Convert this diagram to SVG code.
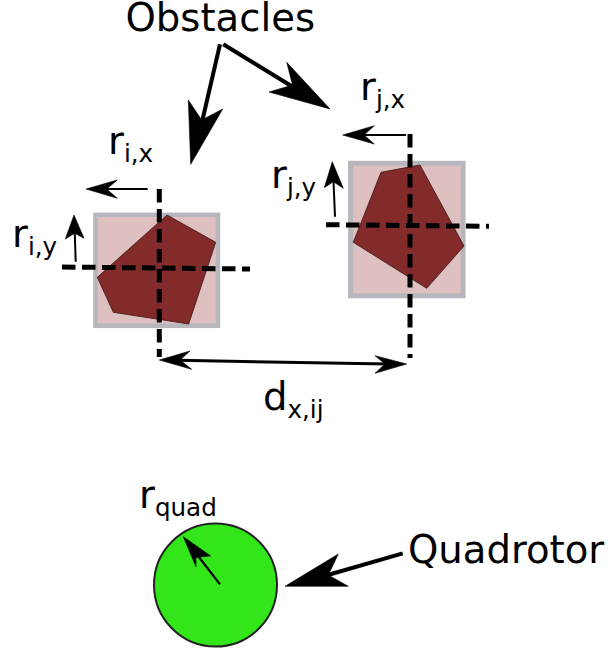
<svg xmlns="http://www.w3.org/2000/svg" width="608" height="651" viewBox="0 0 608 651">
<style>
text{font-family:"DejaVu Sans",sans-serif;fill:#000;font-size:38.6px}
.sub{font-size:24.6px}
.box{fill:#dfc0c0;stroke:#b6b6bc}
.poly{fill:#832a2a;stroke:#3a1414;stroke-width:.8}
.dash{fill:none;stroke:#000;stroke-width:5;stroke-dasharray:13.5 6.5}
.thin{fill:none;stroke:#000;stroke-width:2}
.thick{fill:none;stroke:#000;stroke-width:4}
.head{fill:#000;stroke:#000;stroke-width:.6}
</style>
<rect width="608" height="651" fill="#fff"/>
<g id="obstacle-i">
<rect class="box" x="95.5" y="214.8" width="122.5" height="111" stroke-width="4.5"/>
<polygon class="poly" points="167,215 215.7,242.3 188.7,324 113.3,312.3 97.3,277.3"/>
</g>
<g id="obstacle-j">
<rect class="box" x="350.6" y="163.3" width="112.5" height="132.5" stroke-width="5"/>
<polygon class="poly" points="381,172.3 420,165 464,246 426.7,288.3 353.3,242.3"/>
</g>
<g id="quadrotor">
<circle cx="215.5" cy="585" r="61.5" fill="#32e619" stroke="#222" stroke-width="2"/>
</g>
<g id="connectors">
<path class="dash" d="M159.3 189V357"/>
<path class="dash" d="M62 267L250 269"/>
<path class="dash" d="M410 134V358"/>
<path class="dash" d="M326 224.7L489 226.3"/>
<path class="thin" d="M147.7 189H104"/>
<polygon class="head" points="86,189 117.3,180 106.7,189 117.3,198.3"/>
<path class="thin" d="M75.7 261.7L74.7 231"/>
<polygon class="head" points="74,215 84,238.3 74.7,233.3 65.3,239"/>
<path class="thin" d="M406 135H362"/>
<polygon class="head" points="342.7,135 374.3,125.7 364,135 374.3,144"/>
<path class="thin" d="M335 216.7L333.4 179"/>
<polygon class="head" points="332.3,161.7 343.3,188.3 333.3,181.7 324.3,187.7"/>
<path class="thick" d="M178 360.3L388 364" style="stroke-width:3"/>
<polygon class="head" points="159.3,360 190,351 180,360 191.7,369.3"/>
<polygon class="head" points="406.7,364 375,355.7 385,364 375,373.3"/>
<path class="thick" d="M220 44.3L202 122"/>
<polygon class="head" points="190.7,164.3 188.3,100 201.7,120 222.7,109"/>
<path class="thick" d="M223.3 44.3L293 87"/>
<polygon class="head" points="330,109 286.7,62.3 292.5,85 269,92"/>
<path class="thin" d="M220 584.3L195 552" style="stroke-width:2.2"/>
<polygon class="head" points="183.3,536.7 210.7,556 196,557.3 196,566.7"/>
<path class="thick" d="M402.7 553.3L326 575.5"/>
<polygon class="head" points="285,586.3 338.3,554 328.3,575 348.3,586.3"/>
</g>
<g id="labels">
<text x="125.5" y="31">Obstacles</text>
<text x="408" y="563">Quadrotor</text>
<text x="108" y="154">r<tspan class="sub" dy="8">i,x</tspan></text>
<text x="12" y="247">r<tspan class="sub" dy="8">i,y</tspan></text>
<text x="360" y="100">r<tspan class="sub" dy="8">j,x</tspan></text>
<text x="271" y="188">r<tspan class="sub" dy="8">j,y</tspan></text>
<text x="263" y="409.5">d<tspan class="sub" dy="8.5">x,ij</tspan></text>
<text x="139" y="508">r<tspan class="sub" dy="8">quad</tspan></text>
</g>
</svg>
